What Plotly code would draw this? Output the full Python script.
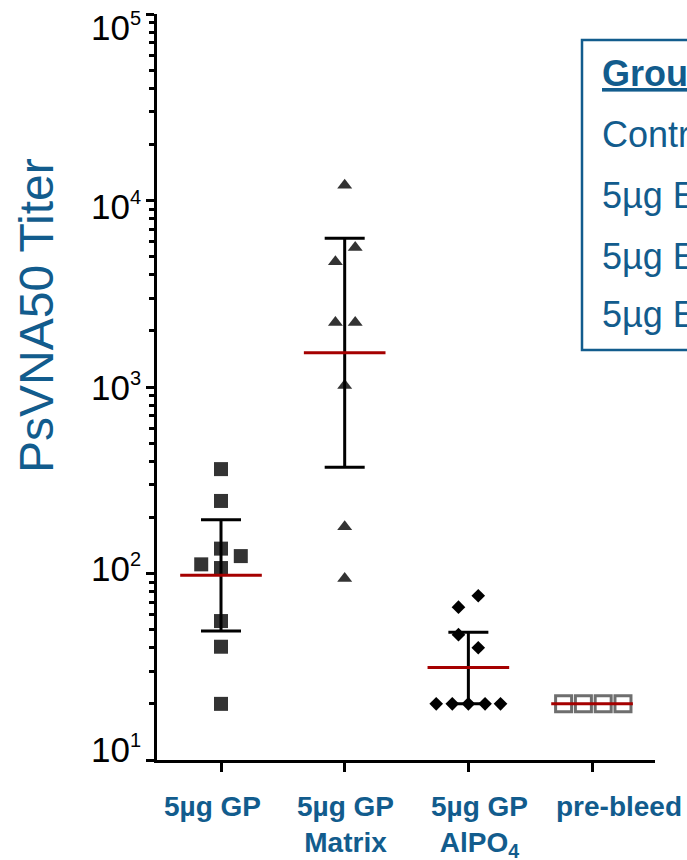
import plotly.graph_objects as go

# ---------------- data ----------------
categories = ["5µg GP", "5µg GP<br>Matrix", "5µg GP<br>AlPO<sub>4</sub>", "pre-bleed"]

gp_values = [363, 245, 136, 124, 112, 107, 55.6, 40.5, 20]
gp_jitter = [0, 0, 0, 0.16, -0.16, 0, 0, 0, 0]

matrix_values = [12100, 5610, 4700, 2220, 2220, 1020, 178, 94]
matrix_jitter = [0, 0.085, -0.075, -0.075, 0.085, 0, 0, 0]

alpo4_values = [76, 66, 47, 40, 20, 20, 20, 20, 20]
alpo4_jitter = [0.08, -0.08, -0.08, 0.08, -0.26, -0.13, 0, 0.135, 0.26]

prebleed_values = [20, 20, 20, 20]
prebleed_jitter = [-0.23, -0.07, 0.09, 0.25]

geo_mean = [98, 1528, 31.3, 20]
err_upper = [194, 6270, 48.5]
err_lower = [49.2, 371, 20]

y_tickvals = [10, 100, 1000, 10000, 100000]
y_ticktext = ["10<sup><span style='font-size:20px'>%d</span></sup>" % k for k in range(1, 6)]

legend_title = "Group"
legend_items = ["Control", "5µg EBOV GP", "5µg EBOV GP + Matrix", "5µg EBOV GP + AlPO<sub>4</sub>"]

# ---------------- styling ----------------
BLUE = "#125c8d"
RED = "#a50000"
W, H = 687, 860
L, R, T, B = 157, 32, 14, 100
PW, PH = W - L - R, H - T - B
XR = [-0.5175, 3.509]
YR = [1, 5.0005]


def px_to_paper_x(px):
    return (px - L) / PW


def px_to_paper_y(py):
    return (H - B - py) / PH


fig = go.Figure()

groups = [
    (gp_values, gp_jitter, dict(symbol="square", size=14, color="#333333")),
    (matrix_values, matrix_jitter, dict(symbol="triangle-up", size=13, color="#333333")),
    (alpo4_values, alpo4_jitter, dict(symbol="diamond", size=10.5, color="#000000")),
    (prebleed_values, prebleed_jitter,
     dict(symbol="square-open", size=16, color="#6e6e6e", line=dict(width=3, color="#6e6e6e"))),
]
for i, (vals, jit, mk) in enumerate(groups):
    fig.add_trace(go.Scatter(
        x=[i + j for j in jit], y=vals, mode="markers", marker=mk,
        showlegend=False, hoverinfo="y", cliponaxis=False))

# error bars (geometric mean +/- spread)
n_err = len(err_upper)
fig.add_trace(go.Scatter(
    x=list(range(n_err)), y=geo_mean[:n_err], mode="markers",
    marker=dict(size=1, color="rgba(0,0,0,0)"),
    error_y=dict(type="data", symmetric=False,
                 array=[u - m for u, m in zip(err_upper, geo_mean)],
                 arrayminus=[m - l for l, m in zip(err_lower, geo_mean)],
                 color="black", thickness=3, width=20),
    showlegend=False, hoverinfo="skip"))

# geometric mean lines
mx, my = [], []
for i, m in enumerate(geo_mean):
    mx += [i - 0.33, i + 0.33, None]
    my += [m, m, None]
fig.add_trace(go.Scatter(x=mx, y=my, mode="lines", line=dict(color=RED, width=3),
                         showlegend=False, hoverinfo="skip"))

# x labels (placed as in the original figure)
label_px = [212, 345.6, 479, 619]
for lab, cx in zip(categories, label_px):
    fig.add_annotation(xref="paper", yref="paper", x=px_to_paper_x(cx), y=px_to_paper_y(789),
                       xanchor="center", yanchor="top", text="<b>%s</b>" % lab, showarrow=False,
                       font=dict(family="Liberation Sans, Arial", size=28, color=BLUE),
                       align="center")

# y tick labels (placed as in the original figure, slightly compressed spacing)
ylab_py = [749, 568, 387, 206, 27]
for txt, py in zip(y_ticktext, ylab_py):
    fig.add_annotation(xref="paper", yref="paper", x=px_to_paper_x(143), y=px_to_paper_y(py),
                       xanchor="right", yanchor="middle", text=txt, showarrow=False,
                       font=dict(family="Liberation Sans, Arial", size=35, color="black"))

# y title
fig.add_annotation(xref="paper", yref="paper", x=px_to_paper_x(36), y=px_to_paper_y(316),
                   xanchor="center", yanchor="middle", text="PsVNA50 Titer", textangle=-90,
                   showarrow=False, font=dict(family="Liberation Sans, Arial", size=48, color=BLUE))

# legend box
fig.add_shape(type="rect", xref="paper", yref="paper",
              x0=px_to_paper_x(582), x1=px_to_paper_x(900),
              y0=px_to_paper_y(350), y1=px_to_paper_y(40),
              line=dict(color=BLUE, width=2.5), fillcolor="rgba(0,0,0,0)")
legend_lines = ["<b><u>%s</u></b>" % legend_title] + legend_items
for k, txt in enumerate(legend_lines):
    fig.add_annotation(xref="paper", yref="paper", x=px_to_paper_x(600),
                       y=px_to_paper_y(73 + 61 * k), xanchor="left", yanchor="middle",
                       text=txt, showarrow=False,
                       font=dict(family="Liberation Sans, Arial", size=36, color=BLUE))

minor_vals = [k * 10 ** n for n in range(1, 5) for k in range(2, 10)]

fig.update_layout(
    width=W, height=H,
    margin=dict(l=L, r=R, t=T, b=B, autoexpand=False),
    paper_bgcolor="white", plot_bgcolor="white",
    font=dict(family="Liberation Sans, Arial", color="black"),
    xaxis=dict(range=XR, tickmode="array", tickvals=list(range(len(categories))),
               showticklabels=False, ticks="outside", ticklen=9, tickwidth=3, tickcolor="black",
               showline=True, linecolor="black", linewidth=3, showgrid=False, zeroline=False,
               automargin=False),
    yaxis=dict(type="log", range=YR, tickmode="array", tickvals=y_tickvals,
               showticklabels=False,
               ticks="outside", ticklen=8, tickwidth=3, tickcolor="black",
               showline=True, linecolor="black", linewidth=3, showgrid=False, zeroline=False,
               automargin=False,
               minor=dict(tickmode="array", tickvals=minor_vals, ticks="outside", ticklen=5,
                          tickwidth=2.5, tickcolor="black", showgrid=False)),
)

fig.write_html("out.html", config={"displayModeBar": False},
               post_script="document.body.style.margin='0';document.body.style.overflow='hidden';")
